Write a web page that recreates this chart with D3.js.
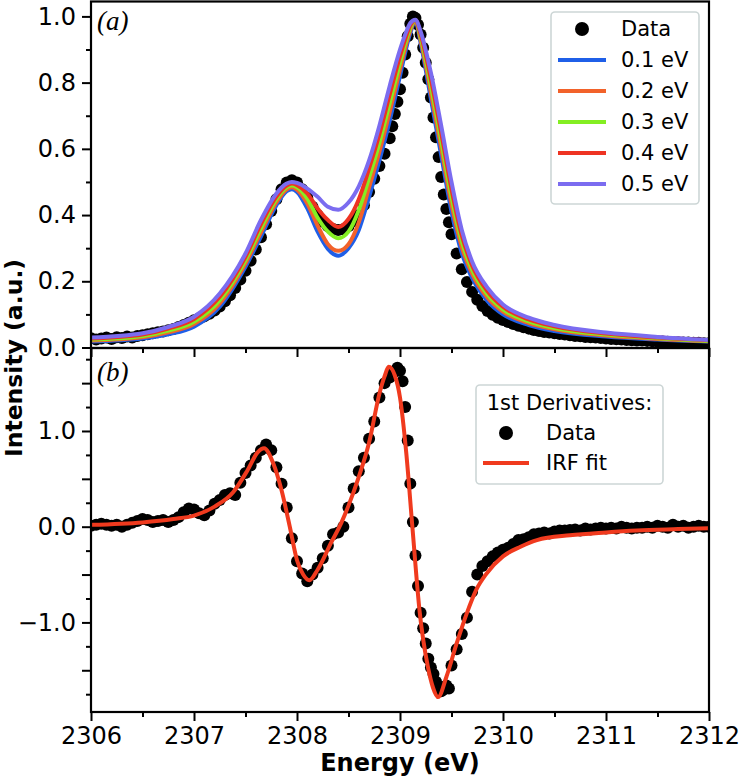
<!DOCTYPE html>
<html>
<head>
<meta charset="utf-8">
<script src="https://cdn.jsdelivr.net/npm/d3@7"></script>
<style>
  html, body { margin: 0; padding: 0; background: #ffffff; }
  svg { display: block; }
  text { font-family: "DejaVu Sans", sans-serif; }
</style>
</head>
<body>
<svg id="chart" width="739" height="780"></svg>
<script>
// ---------------- DATA ----------------
// Panel (a): simulated spectra with different broadenings, sampled on this energy grid
const curveEnergy = [2306.0, 2306.5, 2306.75, 2307.0, 2307.25, 2307.5, 2307.65, 2307.8, 2307.9, 2307.95,
  2308.0, 2308.1, 2308.2, 2308.3, 2308.4, 2308.5, 2308.6, 2308.7, 2308.8, 2308.9,
  2309.0, 2309.05, 2309.1, 2309.15, 2309.2, 2309.3, 2309.4, 2309.5, 2309.6, 2309.7,
  2309.85, 2310.0, 2310.25, 2310.5, 2311.0, 2311.5, 2312.0];
const broad01 = [.018,.027,.040,.063,.123,.244,.335,.430,.472,.478,.470,.420,.350,.298,.277,.300,.355,.455,.565,.685,.820,.890,.950,.985,.920,.750,.580,.410,.285,.210,.140,.100,.068,.050,.033,.024,.018];
const broad02 = [.021,.031,.046,.071,.133,.254,.348,.439,.478,.484,.477,.435,.368,.312,.292,.312,.378,.484,.591,.711,.840,.904,.958,.986,.929,.770,.603,.433,.303,.223,.150,.108,.074,.055,.036,.026,.019];
const broad03 = [.024,.035,.051,.078,.143,.264,.360,.448,.484,.489,.484,.450,.392,.350,.330,.350,.415,.513,.618,.738,.860,.918,.965,.988,.938,.790,.625,.455,.320,.235,.160,.115,.079,.059,.039,.028,.020];
const broad04 = [.027,.039,.057,.086,.153,.274,.373,.456,.489,.495,.490,.465,.420,.385,.364,.388,.448,.541,.644,.764,.880,.931,.973,.989,.946,.810,.648,.478,.338,.248,.170,.123,.085,.064,.042,.030,.022];
const broad05 = [.030,.043,.062,.093,.163,.284,.385,.465,.495,.500,.497,.480,.455,.425,.416,.438,.487,.565,.670,.790,.900,.945,.980,.990,.955,.830,.670,.500,.355,.260,.180,.130,.090,.068,.045,.032,.023];
const broadLabels = ["0.1 eV", "0.2 eV", "0.3 eV", "0.4 eV", "0.5 eV"];
const broadColors = ["#1f5fe8", "#f2622a", "#84ee22", "#ee3322", "#7b6cf0"];

// Measured data points (shared energies for both panels)
const dataEnergy = [
  2306.00,2306.05,2306.10,2306.15,2306.20,2306.25,2306.30,2306.35,2306.40,2306.45,
  2306.50,2306.55,2306.60,2306.65,2306.70,2306.75,2306.80,2306.85,2306.90,2306.95,
  2307.00,2307.05,2307.10,2307.15,2307.20,2307.25,2307.30,2307.35,2307.40,2307.45,
  2307.50,2307.55,2307.60,2307.65,2307.70,2307.75,2307.80,2307.85,2307.90,2307.95,
  2308.00,2308.05,2308.10,2308.15,2308.20,2308.25,2308.30,2308.35,2308.40,2308.45,
  2308.50,2308.55,2308.60,2308.65,2308.70,2308.75,2308.80,2308.85,2308.90,
  2308.925,2308.950,2308.975,2309.000,2309.025,2309.050,2309.075,2309.100,2309.125,2309.150,
  2309.175,2309.200,2309.225,2309.250,2309.275,2309.300,2309.325,2309.350,2309.375,2309.400,
  2309.425,2309.450,2309.475,2309.500,
  2309.55,2309.60,2309.65,2309.70,2309.75,2309.80,2309.85,2309.90,2309.95,
  2310.00,2310.05,2310.10,2310.15,2310.20,2310.25,2310.30,2310.35,2310.40,2310.45,
  2310.50,2310.55,2310.60,2310.65,2310.70,2310.75,2310.80,2310.85,2310.90,2310.95,
  2311.00,2311.05,2311.10,2311.15,2311.20,2311.25,2311.30,2311.35,2311.40,2311.45,
  2311.50,2311.55,2311.60,2311.65,2311.70,2311.75,2311.80,2311.85,2311.90,2311.95,
  2312.00];
const dataIntensity = [
  .028,.024,.027,.030,.026,.031,.029,.033,.030,.035,
  .037,.040,.043,.046,.048,.052,.056,.062,.068,.075,
  .082,.088,.094,.102,.112,.124,.140,.158,.180,.205,
  .232,.262,.296,.333,.372,.412,.448,.478,.498,.505,
  .498,.478,.452,.425,.400,.380,.366,.358,.355,.357,
  .366,.382,.400,.430,.470,.510,.548,.585,.632,
  .668,.705,.742,.780,.830,.885,.940,.978,1.000,.995,
  .975,.945,.905,.860,.810,.755,.695,.635,.575,.515,
  .462,.418,.378,.342,
  .284,.236,.198,.168,.144,.125,.110,.099,.090,
  .083,.077,.071,.066,.061,.057,.053,.050,.047,.045,
  .043,.041,.039,.037,.035,.034,.032,.031,.030,.029,
  .027,.026,.025,.024,.023,.022,.021,.021,.020,.019,
  .018,.018,.017,.016,.016,.015,.015,.014,.014,.013,
  .013];
const dataDerivative = [
  .01,.02,.03,.02,.01,.02,.00,.02,.04,.06,
  .08,.07,.05,.06,.07,.05,.07,.10,.15,.19,
  .18,.14,.12,.17,.24,.28,.33,.35,.33,.46,
  .56,.64,.72,.80,.86,.80,.62,.45,.20,-.12,
  -.36,-.49,-.57,-.50,-.43,-.33,-.20,-.08,-.06,.00,
  .20,.40,.58,.72,.92,1.10,1.35,1.50,1.56,
  1.60,1.62,1.66,1.63,1.52,1.25,.90,.45,.05,-.30,
  -.62,-.90,-1.06,-1.22,-1.38,-1.47,-1.54,-1.62,-1.68,-1.72,
  -1.70,-1.66,-1.69,-1.45,
  -1.28,-1.12,-.95,-.68,-.50,-.41,-.36,-.31,-.27,
  -.24,-.22,-.18,-.14,-.13,-.11,-.08,-.07,-.06,-.07,
  -.05,-.04,-.04,-.035,-.03,-.04,-.02,-.03,-.02,-.01,
  -.02,-.01,-.02,.00,-.01,-.02,-.01,-.01,.00,-.01,
  .01,.00,-.01,.02,.00,.01,-.01,.00,.01,.00,
  .00];

// Panel (b): IRF fit of the 1st derivative
const fitEnergy = [2306.0, 2306.5, 2306.8, 2307.0, 2307.2, 2307.38, 2307.52, 2307.62, 2307.68, 2307.77,
  2307.85, 2307.93, 2308.0, 2308.06, 2308.12, 2308.2, 2308.33, 2308.43, 2308.5, 2308.6,
  2308.7, 2308.8, 2308.85, 2308.89, 2308.95, 2309.0, 2309.06, 2309.12, 2309.19, 2309.27,
  2309.32, 2309.37, 2309.45, 2309.55, 2309.65, 2309.74, 2309.84, 2310.0, 2310.17, 2310.33,
  2310.65, 2311.0, 2311.3, 2311.7, 2312.0];
const fitValues = [0.02, 0.045, 0.08, 0.115, 0.21, 0.36, 0.59, 0.78, 0.82, 0.66,
  0.38, 0.0, -0.35, -0.50, -0.56, -0.45, -0.17, 0.04, 0.22, 0.52,
  0.88, 1.39, 1.57, 1.67, 1.58, 1.35, 0.78, 0.0, -0.88, -1.46,
  -1.68, -1.78, -1.57, -1.22, -0.90, -0.66, -0.49, -0.31, -0.21, -0.14,
  -0.09, -0.06, -0.04, -0.025, -0.015];

// Axis ticks
const xMajorTicks = [2306, 2307, 2308, 2309, 2310, 2311, 2312];
const xMinorTicks = [2306.5, 2307.5, 2308.5, 2309.5, 2310.5, 2311.5];
const yaMajorTicks = [0.0, 0.2, 0.4, 0.6, 0.8, 1.0];
const yaMinorTicks = [0.1, 0.3, 0.5, 0.7, 0.9];
const ybMajorTicks = [-1.5, -1.0, -0.5, 0.0, 0.5, 1.0, 1.5];
const ybMinorTicks = [-1.75, -1.25, -0.75, -0.25, 0.25, 0.75, 1.25, 1.75];
const ybLabelled = [-1.0, 0.0, 1.0];

// ---------------- LAYOUT ----------------
const svg = d3.select("#chart");
const L = 91, R = 709, topA = 1.5, midY = 348, botB = 712;
const x = d3.scaleLinear().domain([2306, 2312]).range([L, R]);
const yA = d3.scaleLinear().domain([-0.0015, 1.045]).range([midY, topA]);
const yB = d3.scaleLinear().domain([-1.936, 1.867]).range([botB, midY]);
const fmt = d3.format(".1f");

const zip = (xs, ys) => xs.slice(0, Math.min(xs.length, ys.length)).map((e, i) => [e, ys[i]]);

const defs = svg.append("defs");
defs.append("clipPath").attr("id", "clipA").append("rect")
  .attr("x", L).attr("y", topA).attr("width", R - L).attr("height", midY - topA);
defs.append("clipPath").attr("id", "clipB").append("rect")
  .attr("x", L).attr("y", midY).attr("width", R - L).attr("height", botB - midY);

// ---------- Panel (a) ----------
const gA = svg.append("g").attr("clip-path", "url(#clipA)");
gA.append("g").selectAll("circle").data(zip(dataEnergy, dataIntensity)).join("circle")
  .attr("cx", d => x(d[0])).attr("cy", d => yA(d[1])).attr("r", 6).attr("fill", "#000");
const lineA = d3.line().x(d => x(d[0])).y(d => yA(d[1])).curve(d3.curveMonotoneX);
[broad01, broad02, broad03, broad04, broad05].forEach((s, i) => {
  gA.append("path").datum(zip(curveEnergy, s)).attr("d", lineA)
    .attr("fill", "none").attr("stroke", broadColors[i]).attr("stroke-width", 4)
    .attr("stroke-linejoin", "round").attr("stroke-linecap", "round");
});

// ---------- Panel (b) ----------
const gB = svg.append("g").attr("clip-path", "url(#clipB)");
gB.append("g").selectAll("circle").data(zip(dataEnergy, dataDerivative)).join("circle")
  .attr("cx", d => x(d[0])).attr("cy", d => yB(d[1])).attr("r", 6).attr("fill", "#000");
const lineB = d3.line().x(d => x(d[0])).y(d => yB(d[1])).curve(d3.curveMonotoneX);
gB.append("path").datum(zip(fitEnergy, fitValues)).attr("d", lineB)
  .attr("fill", "none").attr("stroke", "#f03a1e").attr("stroke-width", 4)
  .attr("stroke-linejoin", "round");

// ---------- Axes ----------
function styleAxis(g, fontSize) {
  g.select(".domain").remove();
  g.selectAll(".tick line").attr("stroke", "#000").attr("stroke-width", 2);
  g.selectAll(".tick text").attr("fill", "#000")
    .style("font-family", "'DejaVu Sans', sans-serif").style("font-size", fontSize + "px");
}
// y axis panel a
svg.append("g").attr("transform", `translate(${L},0)`)
  .call(d3.axisLeft(yA).tickValues(yaMajorTicks).tickSize(9).tickPadding(6).tickFormat(fmt))
  .call(g => styleAxis(g, 24));
svg.append("g").attr("transform", `translate(${L},0)`)
  .call(d3.axisLeft(yA).tickValues(yaMinorTicks).tickSize(5).tickFormat(""))
  .call(g => styleAxis(g, 24));
// y axis panel b
svg.append("g").attr("transform", `translate(${L},0)`)
  .call(d3.axisLeft(yB).tickValues(ybMajorTicks).tickSize(9).tickPadding(6)
    .tickFormat(d => ybLabelled.includes(d) ? fmt(d) : ""))
  .call(g => styleAxis(g, 24));
svg.append("g").attr("transform", `translate(${L},0)`)
  .call(d3.axisLeft(yB).tickValues(ybMinorTicks).tickSize(5).tickFormat(""))
  .call(g => styleAxis(g, 24));
// x axis under panel a (no labels)
svg.append("g").attr("transform", `translate(0,${midY})`)
  .call(d3.axisBottom(x).tickValues(xMajorTicks).tickSize(9).tickFormat(""))
  .call(g => styleAxis(g, 24));
svg.append("g").attr("transform", `translate(0,${midY})`)
  .call(d3.axisBottom(x).tickValues(xMinorTicks).tickSize(5).tickFormat(""))
  .call(g => styleAxis(g, 24));
// x axis bottom of panel b
svg.append("g").attr("transform", `translate(0,${botB})`)
  .call(d3.axisBottom(x).tickValues(xMajorTicks).tickSize(9).tickPadding(6).tickFormat(d3.format("d")))
  .call(g => styleAxis(g, 24));
svg.append("g").attr("transform", `translate(0,${botB})`)
  .call(d3.axisBottom(x).tickValues(xMinorTicks).tickSize(5).tickFormat(""))
  .call(g => styleAxis(g, 24));

// frames
svg.append("rect").attr("x", L).attr("y", topA).attr("width", R - L).attr("height", midY - topA)
  .attr("fill", "none").attr("stroke", "#000").attr("stroke-width", 2.2);
svg.append("rect").attr("x", L).attr("y", midY).attr("width", R - L).attr("height", botB - midY)
  .attr("fill", "none").attr("stroke", "#000").attr("stroke-width", 2.2);

// panel labels
svg.append("text").attr("x", 97).attr("y", 30).text("(a)")
  .style("font-family", "'Liberation Serif', 'DejaVu Serif', serif").style("font-style", "italic")
  .style("font-size", "27px").attr("fill", "#000");
svg.append("text").attr("x", 97).attr("y", 381).text("(b)")
  .style("font-family", "'Liberation Serif', 'DejaVu Serif', serif").style("font-style", "italic")
  .style("font-size", "27px").attr("fill", "#000");

// axis titles
svg.append("text").attr("transform", "translate(22,358) rotate(-90)").attr("text-anchor", "middle")
  .style("font-weight", "bold").style("font-size", "23.5px").attr("fill", "#000").text("Intensity (a.u.)");
svg.append("text").attr("x", (L + R) / 2).attr("y", 771).attr("text-anchor", "middle")
  .style("font-weight", "bold").style("font-size", "24px").attr("fill", "#000").text("Energy (eV)");

// ---------- Legend (a) ----------
const legA = svg.append("g");
legA.append("rect").attr("x", 551).attr("y", 12).attr("width", 148).attr("height", 192).attr("rx", 4)
  .attr("fill", "#fff").attr("fill-opacity", 0.9).attr("stroke", "#cdd6d6").attr("stroke-width", 1.6);
const legRowsA = [29, 60, 91, 122, 153, 184];
legA.append("circle").attr("cx", 582).attr("cy", legRowsA[0]).attr("r", 7).attr("fill", "#000");
legA.append("text").attr("x", 621).attr("y", legRowsA[0]).attr("dy", "0.35em").text("Data")
  .style("font-size", "21px").attr("fill", "#000");
broadLabels.forEach((lab, i) => {
  const yy = legRowsA[i + 1];
  legA.append("line").attr("x1", 558).attr("x2", 606).attr("y1", yy).attr("y2", yy)
    .attr("stroke", broadColors[i]).attr("stroke-width", 4);
  legA.append("text").attr("x", 621).attr("y", yy).attr("dy", "0.35em").text(lab)
    .style("font-size", "21px").attr("fill", "#000");
});

// ---------- Legend (b) ----------
const legB = svg.append("g");
legB.append("rect").attr("x", 476).attr("y", 385).attr("width", 187).attr("height", 99).attr("rx", 4)
  .attr("fill", "#fff").attr("fill-opacity", 0.9).attr("stroke", "#cdd6d6").attr("stroke-width", 1.6);
legB.append("text").attr("x", 569.5).attr("y", 403).attr("dy", "0.35em").attr("text-anchor", "middle")
  .text("1st Derivatives:").style("font-size", "21px").attr("fill", "#000");
legB.append("circle").attr("cx", 506).attr("cy", 433).attr("r", 7).attr("fill", "#000");
legB.append("text").attr("x", 546).attr("y", 433).attr("dy", "0.35em").text("Data")
  .style("font-size", "21px").attr("fill", "#000");
legB.append("line").attr("x1", 483).attr("x2", 529).attr("y1", 463).attr("y2", 463)
  .attr("stroke", "#f03a1e").attr("stroke-width", 4);
legB.append("text").attr("x", 546).attr("y", 463).attr("dy", "0.35em").text("IRF fit")
  .style("font-size", "21px").attr("fill", "#000");

if (dataEnergy.length !== dataIntensity.length || dataEnergy.length !== dataDerivative.length) {
  console.error("length mismatch", dataEnergy.length, dataIntensity.length, dataDerivative.length);
}
</script>
</body>
</html>
